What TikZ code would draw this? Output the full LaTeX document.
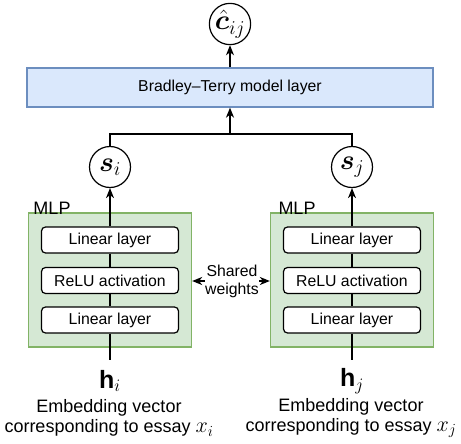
\RequirePackage{fix-cm}
\documentclass[tikz,border=0pt]{standalone}
\usepackage{amsmath,bm}
\usepackage{fontspec}
\setmainfont{Liberation Sans}
\usetikzlibrary{arrows.meta,calc}
\definecolor{btfill}{HTML}{DAE8FC}
\definecolor{btdraw}{HTML}{6C8EBF}
\definecolor{mlpfill}{HTML}{D5E8D4}
\definecolor{mlpdraw}{HTML}{82B366}
\newcommand{\bigmath}[1]{{\fontsize{22}{20}\selectfont$#1$}}
\begin{document}
\begin{tikzpicture}[x=1pt,y=-1pt,
  every node/.style={font=\fontsize{15.8}{18}\selectfont},
  line width=1.3pt,
  arr/.style={-{Stealth[length=10pt,width=8pt,inset=3pt]}},
  layerbox/.style={draw=black, fill=white, rounded corners=4pt, minimum width=137pt, minimum height=26pt, inner sep=0pt, line width=1.2pt},
  mlpbox/.style={draw=mlpdraw, fill=mlpfill, minimum width=163pt, minimum height=134pt, inner sep=0pt, line width=1.3pt},
  circ/.style={draw=black, circle, minimum size=41pt, inner sep=0pt, line width=1.2pt, font=\fontsize{28}{30}\selectfont},
  mathlbl/.style={font=\fontsize{25}{28}\selectfont},
  txt/.style={align=center, font=\fontsize{18}{20.5}\selectfont},
  lbl/.style={font=\fontsize{18}{20}\selectfont}
]
\useasboundingbox (0,0) rectangle (461,444);

% top
\node[circ] (c) at (230,24) {$\hat{\bm{c}}_{ij}$};
\node[draw=btdraw, fill=btfill, minimum width=406pt, minimum height=39pt, inner sep=0pt] (bt) at (230,87.5) {Bradley--Terry model layer};
\coordinate (jn) at (230,134);

% MLP boxes
\node[mlpbox] (mlpL) at (110,280) {};
\node[mlpbox] (mlpR) at (352,280) {};
\node[lbl, anchor=south west, inner sep=0pt] (mlpLlbl) at ([xshift=5pt,yshift=-3pt]mlpL.north west) {MLP};
\node[lbl, anchor=south west, inner sep=0pt] (mlpRlbl) at ([xshift=8pt,yshift=-3pt]mlpR.north west) {MLP};

% left column
\node[layerbox] (L1) at (110,240) {Linear layer};
\node[layerbox] (L2) at (110,280.5) {ReLU activation};
\node[layerbox] (L3) at (110,320) {Linear layer};
\node[circ] (si) at (110,167) {$\bm{s}_i$};
\coordinate (hiTop) at (110,360);
\node[mathlbl] (hi) at (110,381) {$\mathbf{h}_i$};
\node[txt] (ti) at (109,418) {Embedding vector\\corresponding to essay \bigmath{x_i}};

% right column
\node[layerbox] (R1) at (352,240) {Linear layer};
\node[layerbox] (R2) at (352,280.5) {ReLU activation};
\node[layerbox] (R3) at (352,320) {Linear layer};
\node[circ] (sj) at (352,167) {$\bm{s}_j$};
\coordinate (hjTop) at (352,360);
\node[mathlbl] (hj) at (352,381) {$\mathbf{h}_j$};
\node[txt] (tj) at (351,418) {Embedding vector\\corresponding to essay \bigmath{x_j}};

% shared weights
\node[align=center, inner sep=0pt, font=\fontsize{15.8}{18}\selectfont] (sw) at (232,281) {Shared\\weights};

% connectors
\draw[arr] (bt.north) -- (c.south);
\draw (si.north) |- (jn) -| (sj.north);
\draw[arr] (jn) -- (bt.south);
\draw[arr] (L1.north) -- (si.south);
\draw[arr] (R1.north) -- (sj.south);
\draw (L1.south) -- (L2.north);
\draw (L2.south) -- (L3.north);
\draw (R1.south) -- (R2.north);
\draw (R2.south) -- (R3.north);
\draw (L3.south) -- (hiTop);
\draw (R3.south) -- (hjTop);
\draw[arr] (sw.west) -- (mlpL.east |- sw.west);
\draw[arr] (sw.east) -- (mlpR.west |- sw.east);
\end{tikzpicture}
\end{document}
